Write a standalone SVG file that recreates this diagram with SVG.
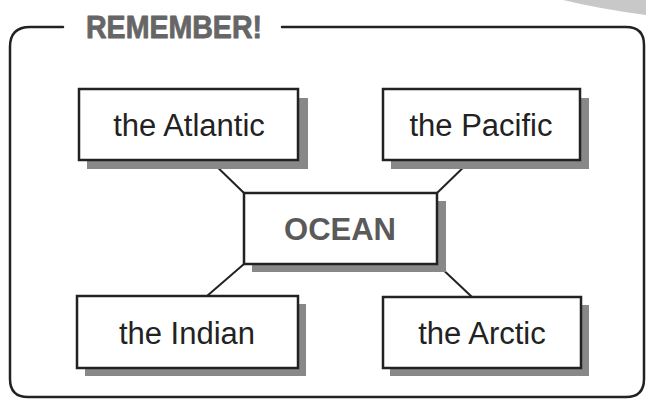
<svg xmlns="http://www.w3.org/2000/svg" width="646" height="401" viewBox="0 0 646 401">
<style>
.frame{fill:none;stroke:#222;stroke-width:2.5;stroke-linecap:round}
.box{fill:#fff;stroke:#222;stroke-width:2.5}
.shadow{fill:#888}
.lbl{font-family:"Liberation Sans",Arial,sans-serif;font-size:31px;fill:#222;text-anchor:middle}
.conn{stroke:#222;stroke-width:2;fill:none}
</style>
<rect width="646" height="401" fill="#fff"/>
<path d="M563,0 Q600,9 646,15 L646,0 Z" fill="#c8c8c8"/>
<path class="frame" d="M63,27 L30,27 Q10,27 10,47 L10,379 Q10,397 28,397 L626,397 Q644,397 644,379 L644,45 Q644,27 626,27 L282,27"/>
<text x="174" y="38" font-family="Liberation Sans, Arial, sans-serif" font-weight="bold" font-size="31" fill="#666" stroke="#666" stroke-width="0.8" stroke-linejoin="round" text-anchor="middle" textLength="176" lengthAdjust="spacingAndGlyphs">REMEMBER!</text>
<g id="connectors">
<line class="conn" x1="210" y1="160" x2="244" y2="193"/>
<line class="conn" x1="471" y1="160" x2="437" y2="193"/>
<line class="conn" x1="207" y1="296" x2="244" y2="264"/>
<line class="conn" x1="472" y1="297" x2="437" y2="264"/>
</g>
<g id="atlantic">
<rect class="shadow" x="87" y="98" width="221" height="71"/>
<rect class="box" x="79" y="89" width="219" height="71"/>
<text class="lbl" x="189" y="136">the Atlantic</text>
</g>
<g id="pacific">
<rect class="shadow" x="391" y="98" width="198" height="71"/>
<rect class="box" x="383" y="89" width="197" height="71"/>
<text class="lbl" x="481" y="136">the Pacific</text>
</g>
<g id="ocean">
<rect class="shadow" x="252" y="201" width="194" height="71"/>
<rect class="box" x="244" y="193" width="193" height="71"/>
<text x="340" y="240" font-family="Liberation Sans, Arial, sans-serif" font-weight="bold" font-size="31" fill="#5a5a5a" text-anchor="middle">OCEAN</text>
</g>
<g id="indian">
<rect class="shadow" x="85" y="304" width="221" height="72"/>
<rect class="box" x="77" y="296" width="221" height="72"/>
<text class="lbl" x="187" y="344">the Indian</text>
</g>
<g id="arctic">
<rect class="shadow" x="390" y="305" width="199" height="71"/>
<rect class="box" x="383" y="297" width="198" height="71"/>
<text class="lbl" x="482" y="344">the Arctic</text>
</g>
</svg>
